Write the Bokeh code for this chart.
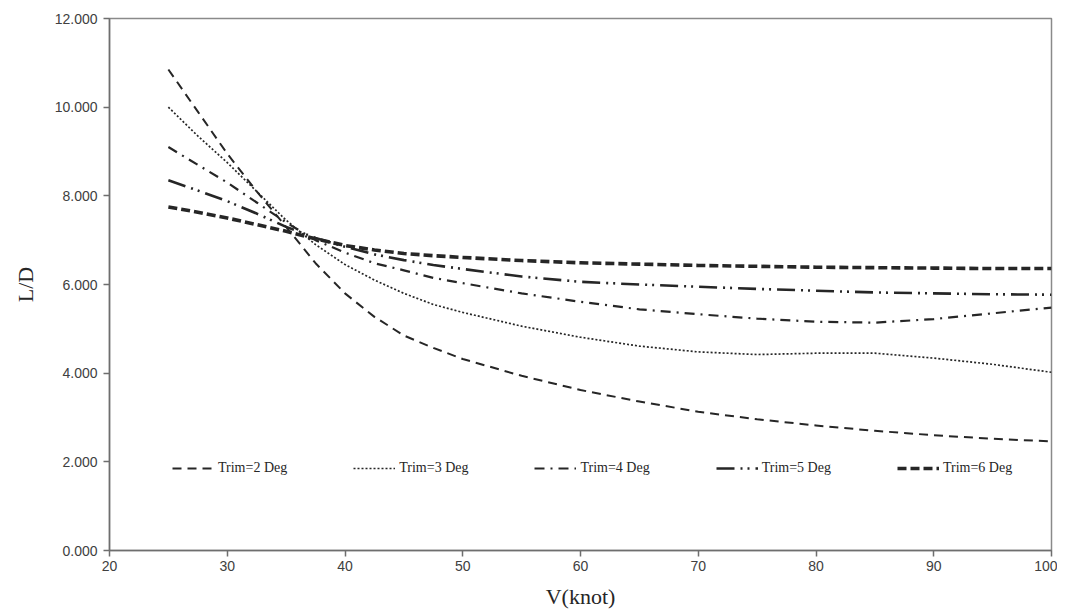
from bokeh.plotting import figure
from bokeh.models import Legend, LegendItem, NumeralTickFormatter, FixedTicker, Range1d
from bokeh.embed import file_html
from bokeh.resources import INLINE

V = [25, 27.5, 30, 32.5, 35, 37.5, 40, 42.5, 45, 47.5, 50, 55, 60, 65, 70, 75, 80, 85, 90, 95, 100]
trim2 = [10.85, 9.90, 8.95, 8.10, 7.30, 6.48, 5.80, 5.27, 4.85, 4.57, 4.32,
         3.94, 3.62, 3.36, 3.13, 2.96, 2.82, 2.70, 2.60, 2.52, 2.46]
trim3 = [10.00, 9.35, 8.75, 8.10, 7.45, 6.90, 6.45, 6.10, 5.80, 5.55, 5.37,
         5.06, 4.81, 4.61, 4.48, 4.42, 4.45, 4.45, 4.34, 4.20, 4.02]
trim4 = [9.10, 8.70, 8.30, 7.85, 7.40, 7.00, 6.72, 6.48, 6.32, 6.15, 6.03,
         5.80, 5.61, 5.44, 5.33, 5.23, 5.16, 5.14, 5.22, 5.35, 5.48]
trim5 = [8.35, 8.12, 7.88, 7.60, 7.30, 7.05, 6.85, 6.68, 6.55, 6.44, 6.35,
         6.18, 6.06, 6.00, 5.95, 5.90, 5.86, 5.82, 5.80, 5.78, 5.77]
trim6 = [7.75, 7.63, 7.50, 7.35, 7.20, 7.03, 6.88, 6.78, 6.70, 6.65, 6.61,
         6.54, 6.49, 6.46, 6.43, 6.41, 6.39, 6.38, 6.37, 6.36, 6.36]
labels = ["Trim=2 Deg", "Trim=3 Deg", "Trim=4 Deg", "Trim=5 Deg", "Trim=6 Deg"]
x_ticks = [20, 30, 40, 50, 60, 70, 80, 90, 100]
y_ticks = [0, 2, 4, 6, 8, 10, 12]

p = figure(width=1057, height=612, output_backend="svg", toolbar_location=None,
           x_range=Range1d(20, 100), y_range=Range1d(0, 12),
           min_border_left=109, min_border_right=6, min_border_top=18, min_border_bottom=62)
p.background_fill_color = "white"
p.border_fill_color = "white"
p.outline_line_color = "#8a8a8a"
p.outline_line_width = 1.5
p.xgrid.visible = False
p.ygrid.visible = False

styles = [
    dict(line_dash="9 6", line_width=2.0),
    dict(line_dash="2 2", line_width=1.7),
    dict(line_dash="10 6 2 6", line_width=2.2),
    dict(line_dash="18 6 2 5 2 6", line_width=2.6),
    dict(line_dash="9 4", line_width=3.6),
]
series = [trim2, trim3, trim4, trim5, trim6]
renderers = []
for ys, st in zip(series, styles):
    r = p.line(V, ys, line_color="#262626", line_join="round", **st)
    renderers.append(r)

legend = Legend(items=[LegendItem(label=l, renderers=[r]) for l, r in zip(labels, renderers)],
                orientation="horizontal", location=(63, 72))
legend.label_text_font = "Liberation Serif"
legend.label_text_font_size = "14px"
legend.label_text_color = "#262626"
legend.glyph_width = 42
legend.label_standoff = 4
legend.spacing = 66
legend.padding = 0
legend.margin = 0
legend.border_line_alpha = 0
legend.background_fill_alpha = 0
p.add_layout(legend, "center")

p.xaxis.ticker = FixedTicker(ticks=x_ticks)
p.yaxis.ticker = FixedTicker(ticks=y_ticks)
p.yaxis.formatter = NumeralTickFormatter(format="0.000")
for ax in (p.xaxis, p.yaxis):
    ax.axis_line_color = "#6e6e6e"
    ax.axis_line_width = 1.5
    ax.major_tick_line_color = "#6e6e6e"
    ax.major_tick_line_width = 1.5
    ax.major_tick_in = 0
    ax.major_tick_out = 6
    ax.minor_tick_line_color = None
    ax.major_label_text_font = "Liberation Sans"
    ax.major_label_text_font_size = "14px"
    ax.major_label_text_color = "#404040"
    ax.axis_label_text_font = "Liberation Serif"
    ax.axis_label_text_font_size = "22px"
    ax.axis_label_text_font_style = "normal"
    ax.axis_label_text_color = "#262626"
p.xaxis.axis_label = "V(knot)"
p.yaxis.axis_label = "L/D"
p.xaxis.major_label_standoff = 4
p.xaxis.axis_label_standoff = 10
p.yaxis.major_label_standoff = 6
p.yaxis.axis_label_standoff = 14

open("out.html", "w").write(file_html(p, INLINE))
